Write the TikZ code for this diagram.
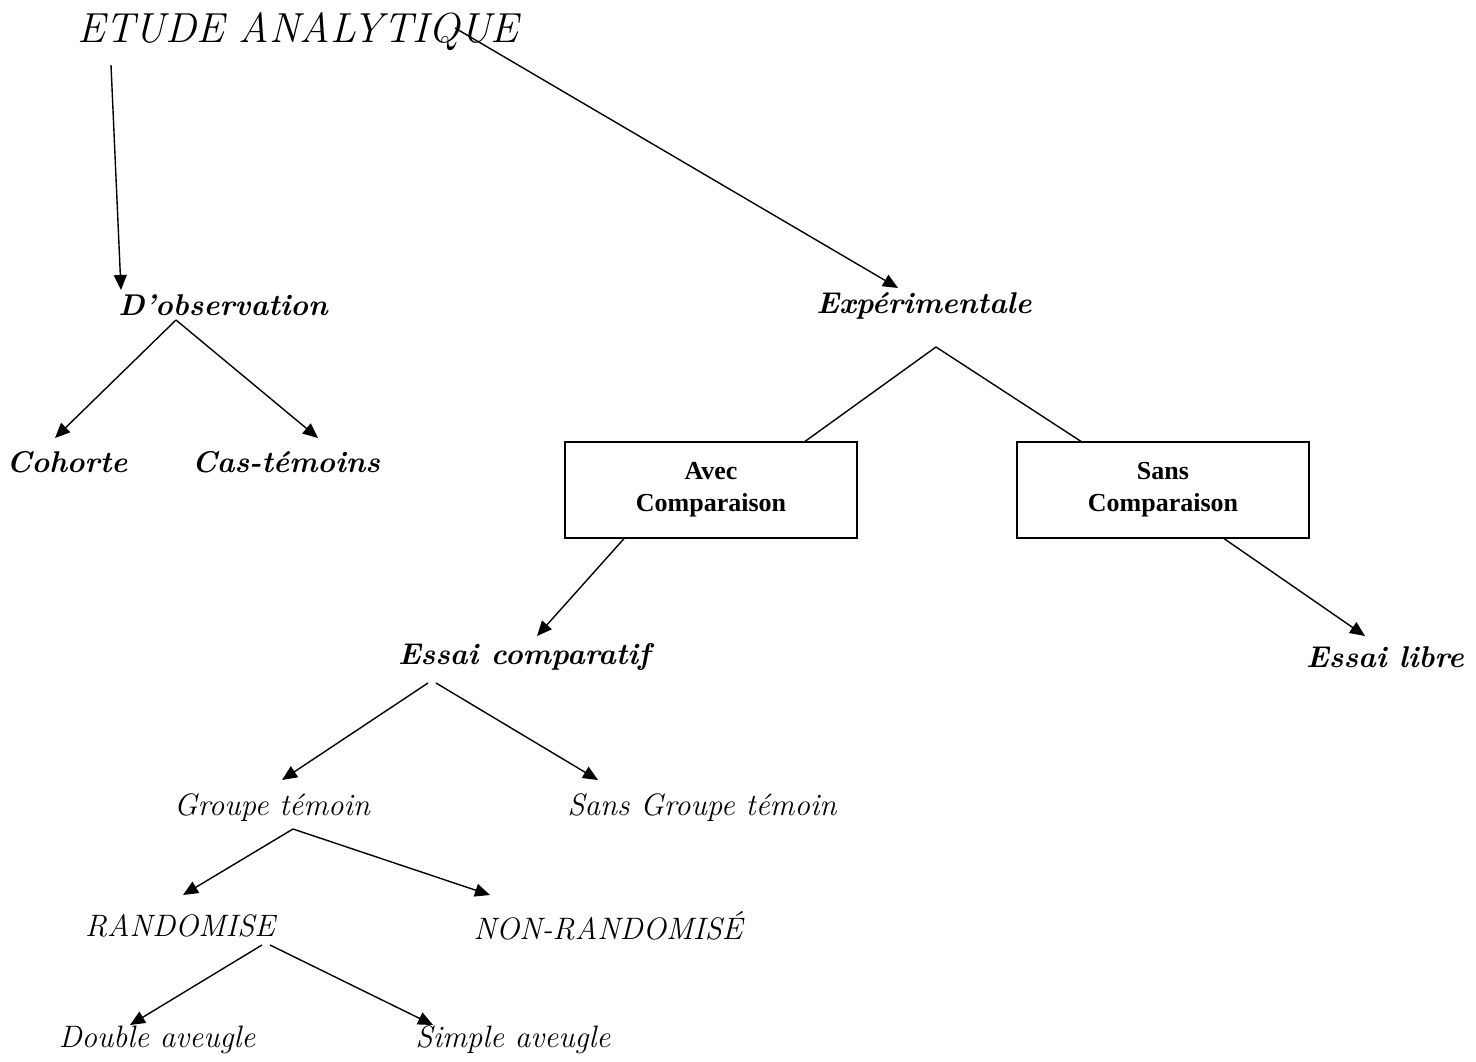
\documentclass[tikz,border=0pt]{standalone}
\usepackage{fontspec}
\newfontfamily\boxfont{Liberation Serif}
\usetikzlibrary{arrows.meta,
positioning}

\begin{document}
\begin{tikzpicture} [x=1pt, y=-1pt,
    line width=1.4pt,
    arr/.style={-{Triangle[length=15pt, width=13pt]}},
    lbl/.style={inner sep=0pt, font=\fontsize{31}{34}\selectfont\itshape},
    blbl/.style={inner sep=0pt, font=\fontsize{30}{34}\selectfont\bfseries\itshape},
    cmpbox/.style={rectangle, draw, line width=1.2pt, align=center,
        minimum width=292pt, minimum height=96pt, inner sep=0pt,
        font=\boxfont\fontsize{26}{32}\selectfont\bfseries}
  ]
  \useasboundingbox (0,0) rectangle (1476,1062);

  \node [inner sep=0pt, font=\fontsize{42}{46}\selectfont\itshape] (etude) at (298, 32) {ETUDE ANALYTIQUE};

  % observation side
  \node [blbl] (obs) at (223, 305) {D'observation};
  \node [blbl] (coh) at (67, 462) {Cohorte};
  \node [blbl] (cas) at (286, 462) {Cas-témoins};

  % experimental side
  \node [blbl] (exp) at (924, 306) {Expérimentale};
  \node [cmpbox] (avec) at (711, 490) {Avec\\Comparaison};
  \node [cmpbox] (sans) at (1163, 490) {Sans\\Comparaison};
  \node [blbl] (ecomp) at (524, 657) {Essai comparatif};
  \node [blbl] (elib) at (1385, 657) {Essai libre};

  \node [lbl] (grp) at (272, 808) {Groupe témoin};
  \node [lbl] (sgrp) at (702, 808) {Sans Groupe témoin};
  \node [lbl] (rand) at (180, 926) {RANDOMISE};
  \node [lbl] (nrand) at (608, 926) {NON-RANDOMISÉ};
  \node [lbl] (dbl) at (157, 1040) {Double aveugle};
  \node [lbl] (spl) at (513, 1040) {Simple aveugle};

  \draw [arr] ([shift={(-187,33)}]etude.center) -- ([shift={(-102,-15)}]obs.center);
  \draw [arr] ([shift={(157,-4)}]etude.center) -- ([shift={(-26,-18)}]exp.center);

  \draw [arr] ([shift={(-47,15)}]obs.center) -- ([shift={(-12,-24)}]coh.center);
  \draw [arr] ([shift={(-47,15)}]obs.center) -- ([shift={(32,-24)}]cas.center);

  \draw ([shift={(12,41)}]exp.center) -- ([xshift=94pt]avec.north);
  \draw ([shift={(12,41)}]exp.center) -- ([xshift=-82pt]sans.north);

  \draw [arr] ([xshift=-87pt]avec.south) -- ([shift={(13,-21)}]ecomp.center);
  \draw [arr] ([xshift=61pt]sans.south) -- ([shift={(-20,-21)}]elib.center);

  \draw [arr] ([shift={(-96,26)}]ecomp.center) -- ([shift={(10,-28)}]grp.center);
  \draw [arr] ([shift={(-88,26)}]ecomp.center) -- ([shift={(-104,-28)}]sgrp.center);

  \draw [arr] ([shift={(21,21)}]grp.center) -- ([shift={(3,-31)}]rand.center);
  \draw [arr] ([shift={(21,21)}]grp.center) -- ([shift={(-118,-31)}]nrand.center);

  \draw [arr] ([shift={(82,19)}]rand.center) -- ([shift={(-27,-15)}]dbl.center);
  \draw [arr] ([shift={(90,19)}]rand.center) -- ([shift={(-80,-15)}]spl.center);

\end{tikzpicture}
\end{document}
